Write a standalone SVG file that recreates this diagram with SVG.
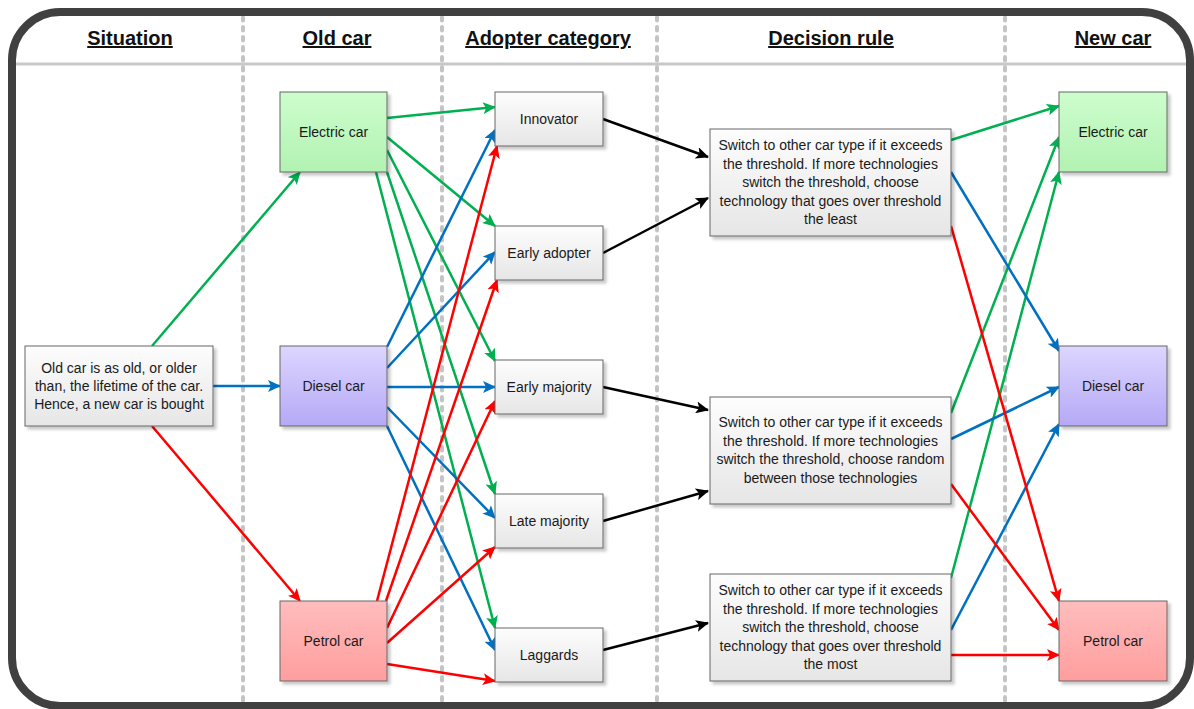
<svg xmlns="http://www.w3.org/2000/svg" width="1194" height="709" viewBox="0 0 1194 709">
<style>
.hdr{font-family:"Liberation Sans",Arial,sans-serif;font-size:20px;font-weight:bold;fill:#111;text-anchor:middle;text-decoration:underline}
.lbl{font-family:"Liberation Sans",Arial,sans-serif;font-size:14px;fill:#1a1a1a;text-anchor:middle}
.box{stroke:#666;stroke-width:1}
.sep{stroke:#c4c4c4;stroke-width:4;stroke-linecap:round;stroke-dasharray:3.5 6.5;fill:none}
.g{stroke:#00b050}.b{stroke:#0070c0}.r{stroke:#ff0000}.k{stroke:#000}
#connectors path{stroke-width:2.5;fill:none}
.g{marker-end:url(#mg)}.b{marker-end:url(#mb)}.r{marker-end:url(#mr)}.k{marker-end:url(#mk)}
</style>
<defs>
<linearGradient id="gw" x1="0" y1="0" x2="0" y2="1"><stop offset="0" stop-color="#fdfdfd"/><stop offset="1" stop-color="#e6e6e6"/></linearGradient>
<linearGradient id="gg" x1="0" y1="0" x2="0" y2="1"><stop offset="0" stop-color="#cdfdcd"/><stop offset="1" stop-color="#b2f2b2"/></linearGradient>
<linearGradient id="gb" x1="0" y1="0" x2="0" y2="1"><stop offset="0" stop-color="#ddd6ff"/><stop offset="1" stop-color="#b5a9f6"/></linearGradient>
<linearGradient id="gr" x1="0" y1="0" x2="0" y2="1"><stop offset="0" stop-color="#ffbdbd"/><stop offset="1" stop-color="#ff9e9e"/></linearGradient>
<filter id="sh" x="-10%" y="-10%" width="130%" height="130%"><feDropShadow dx="3" dy="3" stdDeviation="1.5" flood-color="#000" flood-opacity="0.22"/></filter>
<marker id="mg" markerUnits="userSpaceOnUse" markerWidth="14" markerHeight="12" refX="12" refY="6" orient="auto"><path d="M0,0 L13,6 L0,12 L3,6 z" fill="#00b050"/></marker>
<marker id="mb" markerUnits="userSpaceOnUse" markerWidth="14" markerHeight="12" refX="12" refY="6" orient="auto"><path d="M0,0 L13,6 L0,12 L3,6 z" fill="#0070c0"/></marker>
<marker id="mr" markerUnits="userSpaceOnUse" markerWidth="14" markerHeight="12" refX="12" refY="6" orient="auto"><path d="M0,0 L13,6 L0,12 L3,6 z" fill="#ff0000"/></marker>
<marker id="mk" markerUnits="userSpaceOnUse" markerWidth="14" markerHeight="12" refX="12" refY="6" orient="auto"><path d="M0,0 L13,6 L0,12 L3,6 z" fill="#000"/></marker>
</defs>
<rect x="0" y="0" width="1194" height="709" fill="#fff"/>
<g id="frame">
<line x1="15" y1="64" x2="1190" y2="64" stroke="#c8c8c8" stroke-width="3"/>
<line class="sep" x1="243" y1="17" x2="243" y2="703"/>
<line class="sep" x1="442" y1="17" x2="442" y2="703"/>
<line class="sep" x1="657" y1="17" x2="657" y2="703"/>
<line class="sep" x1="1005" y1="17" x2="1005" y2="703"/>
<rect x="12" y="12" width="1178" height="694" rx="48" fill="none" stroke="#404040" stroke-width="8"/>
<text class="hdr" x="130" y="45">Situation</text>
<text class="hdr" x="337" y="45">Old car</text>
<text class="hdr" x="548" y="45">Adopter category</text>
<text class="hdr" x="831" y="45">Decision rule</text>
<text class="hdr" x="1113" y="45">New car</text>
</g>
<g id="connectors">
<path class="g" d="M152,346 L300,172"/>
<path class="g" d="M387,118 L495,107"/>
<path class="g" d="M387,137 L495,226"/>
<path class="g" d="M387,150 L495,361"/>
<path class="g" d="M387,172 L495,494"/>
<path class="g" d="M376,172 L495,628"/>
<path class="g" d="M951,140 L1059,106"/>
<path class="g" d="M951,413 L1059,137"/>
<path class="g" d="M951,578 L1059,172"/>
<path class="b" d="M213,386 L280,386"/>
<path class="b" d="M387,347 L495,130"/>
<path class="b" d="M387,368 L495,252"/>
<path class="b" d="M387,387 L495,387"/>
<path class="b" d="M387,407 L495,518"/>
<path class="b" d="M387,426 L495,650"/>
<path class="b" d="M951,172 L1059,351"/>
<path class="b" d="M951,439 L1059,387"/>
<path class="b" d="M951,630 L1059,424"/>
<path class="r" d="M152,426 L300,601"/>
<path class="r" d="M377,601 L497,146"/>
<path class="r" d="M386,601 L497,280"/>
<path class="r" d="M387,628 L495,401"/>
<path class="r" d="M387,643 L495,547"/>
<path class="r" d="M387,664 L495,681"/>
<path class="r" d="M951,226 L1059,601"/>
<path class="r" d="M951,484 L1059,630"/>
<path class="r" d="M951,655 L1059,655"/>
<path class="k" d="M603,119 L708,157"/>
<path class="k" d="M603,253 L708,198"/>
<path class="k" d="M603,387 L708,410"/>
<path class="k" d="M603,521 L708,491"/>
<path class="k" d="M603,650 L708,623"/>
</g>
<g id="situation"><rect class="box" x="25" y="346" width="188" height="80" fill="url(#gw)" filter="url(#sh)"/>
<text class="lbl" x="119" y="373">Old car is as old, or older</text>
<text class="lbl" x="119" y="391">than, the lifetime of the car.</text>
<text class="lbl" x="119" y="409">Hence, a new car is bought</text></g>
<g id="old-electric"><rect class="box" x="280" y="92" width="107" height="80" fill="url(#gg)" filter="url(#sh)"/><text class="lbl" x="333.5" y="137">Electric car</text></g>
<g id="old-diesel"><rect class="box" x="280" y="346" width="107" height="80" fill="url(#gb)" filter="url(#sh)"/><text class="lbl" x="333.5" y="391">Diesel car</text></g>
<g id="old-petrol"><rect class="box" x="280" y="601" width="107" height="80" fill="url(#gr)" filter="url(#sh)"/><text class="lbl" x="333.5" y="646">Petrol car</text></g>
<g id="innovator"><rect class="box" x="495" y="92" width="108" height="54" fill="url(#gw)" filter="url(#sh)"/><text class="lbl" x="549" y="124">Innovator</text></g>
<g id="early-adopter"><rect class="box" x="495" y="226" width="108" height="54" fill="url(#gw)" filter="url(#sh)"/><text class="lbl" x="549" y="258">Early adopter</text></g>
<g id="early-majority"><rect class="box" x="495" y="360" width="108" height="54" fill="url(#gw)" filter="url(#sh)"/><text class="lbl" x="549" y="392">Early majority</text></g>
<g id="late-majority"><rect class="box" x="495" y="494" width="108" height="54" fill="url(#gw)" filter="url(#sh)"/><text class="lbl" x="549" y="526">Late majority</text></g>
<g id="laggards"><rect class="box" x="495" y="628" width="108" height="54" fill="url(#gw)" filter="url(#sh)"/><text class="lbl" x="549" y="660">Laggards</text></g>
<g id="rule-1"><rect class="box" x="710" y="129" width="241" height="107" fill="url(#gw)" filter="url(#sh)"/>
<text class="lbl" x="830.5" y="150">Switch to other car type if it exceeds</text>
<text class="lbl" x="830.5" y="168.6">the threshold. If more technologies</text>
<text class="lbl" x="830.5" y="187.2">switch the threshold, choose</text>
<text class="lbl" x="830.5" y="205.8">technology that goes over threshold</text>
<text class="lbl" x="830.5" y="224.4">the least</text></g>
<g id="rule-2"><rect class="box" x="710" y="397" width="241" height="107" fill="url(#gw)" filter="url(#sh)"/>
<text class="lbl" x="830.5" y="427">Switch to other car type if it exceeds</text>
<text class="lbl" x="830.5" y="445.6">the threshold. If more technologies</text>
<text class="lbl" x="830.5" y="464.2">switch the threshold, choose random</text>
<text class="lbl" x="830.5" y="482.8">between those technologies</text></g>
<g id="rule-3"><rect class="box" x="710" y="574" width="241" height="107" fill="url(#gw)" filter="url(#sh)"/>
<text class="lbl" x="830.5" y="595">Switch to other car type if it exceeds</text>
<text class="lbl" x="830.5" y="613.6">the threshold. If more technologies</text>
<text class="lbl" x="830.5" y="632.2">switch the threshold, choose</text>
<text class="lbl" x="830.5" y="650.8">technology that goes over threshold</text>
<text class="lbl" x="830.5" y="669.4">the most</text></g>
<g id="new-electric"><rect class="box" x="1059" y="92" width="108" height="80" fill="url(#gg)" filter="url(#sh)"/><text class="lbl" x="1113" y="137">Electric car</text></g>
<g id="new-diesel"><rect class="box" x="1059" y="346" width="108" height="80" fill="url(#gb)" filter="url(#sh)"/><text class="lbl" x="1113" y="391">Diesel car</text></g>
<g id="new-petrol"><rect class="box" x="1059" y="601" width="108" height="80" fill="url(#gr)" filter="url(#sh)"/><text class="lbl" x="1113" y="646">Petrol car</text></g>
</svg>
